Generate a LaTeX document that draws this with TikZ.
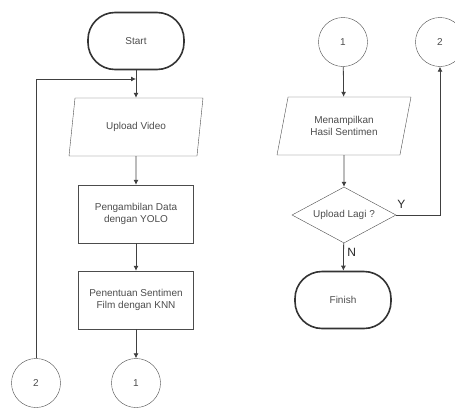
\documentclass[tikz,border=0pt]{standalone}
\usepackage{fontspec}
\setmainfont{Liberation Sans}
\usetikzlibrary{arrows.meta,shapes.geometric}
\tikzset{
  every node/.style={text=black!70,font=\fontsize{10}{11.5}\selectfont,align=center},
  terminal/.style={draw=black!80,line width=1.6pt,rectangle,rounded corners=27pt,minimum width=96pt,minimum height=57pt},
  io/.style={draw=black!70,trapezium,trapezium left angle=62,trapezium right angle=118,trapezium stretches body,minimum width=134pt,minimum height=58pt,inner sep=1pt},
  process/.style={draw=black!70,rectangle,minimum width=115pt,minimum height=58pt,inner sep=1pt},
  decision/.style={draw=black!70,diamond,shape aspect=2.2,minimum width=104pt,minimum height=56pt,inner sep=0pt},
  connector/.style={draw=black!70,circle,minimum size=49pt,inner sep=0pt},
  line/.style={draw=black!75,line width=0.8pt},
  flow/.style={line,-{Latex[length=5pt,width=5pt]}}
}
\begin{document}
\begin{tikzpicture}[x=1pt,y=-1pt]
      \useasboundingbox (0,0) rectangle (455,407);
      \draw
        (136,41) node[terminal] (start){Start}
        (136,127) node[io] (upload){Upload Video}
        (136,214) node[process] (data){Pengambilan Data\\dengan YOLO}
        (136,300) node[process] (knn){Penentuan Sentimen\\Film dengan KNN}
        (136,383) node[connector] (outa){1}
        (36,383) node[connector] (outb){2}
        (343,42) node[connector] (ina){1}
        (440,42) node[connector] (inb){2}
        (344,126) node[io] (show){Menampilkan\\Hasil Sentimen}
        (344,215) node[decision] (ask){Upload Lagi ?}
        (343,300) node[terminal] (finish){Finish};
      \coordinate (join) at (136,79);
      \begin{scope}[flow]
        \draw (start) to (upload);
        \draw (outb) |- (join);
        \draw (upload) to (data);
        \draw (data) to (knn);
        \draw (knn) to (outa);
        \draw (ina) to (show);
        \draw (show) to (ask);
        \draw (ask) to node[right,pos=0.35,font=\fontsize{12}{12}\selectfont,text=black!85]{N} (finish);
        \draw (ask.east) -| node[pos=0.06,above=3pt,font=\fontsize{12}{12}\selectfont,text=black!85]{Y} (inb);
      \end{scope}
    \end{tikzpicture}
\end{document}
